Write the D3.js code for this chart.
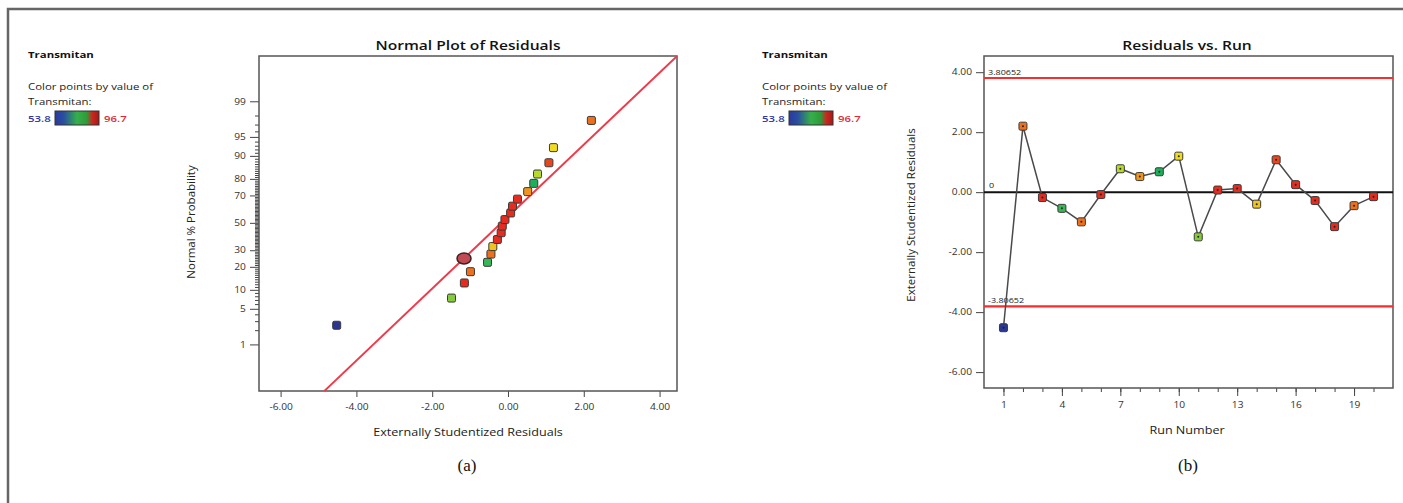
<html>
<head>
	<script src="https://d3js.org/d3.v7.min.js" charset="utf-8"></script>
	<style type="text/css">
	body { margin: 0; background: #fff; }
	svg { display: block; font-family: "Open Sans", "DejaVu Sans", sans-serif; }
	</style>
</head>
<body>
<script type="text/javascript">
	var w = 1403;
	var h = 503;

	// externally studentized residuals per run
	var runs = [1, 2, 3, 4, 5, 6, 7, 8, 9, 10, 11, 12, 13, 14, 15, 16, 17, 18, 19, 20];
	var residuals = [-4.52, 2.20, -0.18, -0.54, -0.99, -0.08, 0.78, 0.52, 0.68, 1.20, -1.49, 0.07, 0.12, -0.40, 1.08, 0.25, -0.28, -1.15, -0.45, -0.15];
	// transmitan value per run
	var transmitan = [53.8, 91, 96, 76, 91, 96, 81, 89, 75, 86, 79, 96, 96, 87, 94, 96, 96, 96, 91, 96];
	// normal % probability of the sorted residuals
	var normalProb = [2.5, 7.5, 12.5, 17.5, 22.5, 27.5, 32.5, 37.5, 42.5, 47.5, 52.5, 57.5, 62.5, 67.5, 72.5, 77.5, 82.5, 87.5, 92.5, 97.5];
	// highlighted point on the normal plot
	var highlight = {x: -1.16, p: 24.8};
	// reference line on the normal plot, two points (residual, z)
	var refLineX = [-4.85, 4.46];
	var refLineZ = [-3.22, 3.19];
	// control limits
	var limit = 3.80652;

	var probTicks = [1, 5, 10, 20, 30, 50, 70, 80, 90, 95, 99];
	var residTicksL = [-6, -4, -2, 0, 2, 4];
	var residTicksR = [-6, -4, -2, 0, 2, 4];
	var runTicks = [1, 4, 7, 10, 13, 16, 19];
	var legendMin = 53.8, legendMax = 96.7;

	var sx = 1.2; // the source image is stretched sideways

	var svg = d3.select("body").append("svg")
		.attr("width", w)
		.attr("height", h);

	// inverse normal cdf (Acklam)
	function probit(p) {
		var a = [-3.969683028665376e+01, 2.209460984245205e+02, -2.759285104469687e+02, 1.383577518672690e+02, -3.066479806614716e+01, 2.506628277459239e+00];
		var b = [-5.447609879822406e+01, 1.615858368580409e+02, -1.556989798598866e+02, 6.680131188771972e+01, -1.328068155288572e+01];
		var c = [-7.784894002430293e-03, -3.223964580411365e-01, -2.400758277161838e+00, -2.549732539343734e+00, 4.374664141464968e+00, 2.938163982698783e+00];
		var d = [7.784695709041462e-03, 3.224671290700398e-01, 2.445134137142996e+00, 3.754408661907416e+00];
		var pl = 0.02425, q, r;
		if (p < pl) {
			q = Math.sqrt(-2 * Math.log(p));
			return (((((c[0]*q+c[1])*q+c[2])*q+c[3])*q+c[4])*q+c[5]) / ((((d[0]*q+d[1])*q+d[2])*q+d[3])*q+1);
		}
		if (p > 1 - pl) {
			q = Math.sqrt(-2 * Math.log(1 - p));
			return -(((((c[0]*q+c[1])*q+c[2])*q+c[3])*q+c[4])*q+c[5]) / ((((d[0]*q+d[1])*q+d[2])*q+d[3])*q+1);
		}
		q = p - 0.5; r = q * q;
		return (((((a[0]*r+a[1])*r+a[2])*r+a[3])*r+a[4])*r+a[5])*q / (((((b[0]*r+b[1])*r+b[2])*r+b[3])*r+b[4])*r+1);
	}

	var color = d3.scaleLinear()
		.domain([53.8, 75, 81, 86, 90, 96.7])
		.range(["#2c3793", "#1fae5c", "#b6d92c", "#f0dc1c", "#ef7d1c", "#e4231f"]);

	// horizontal text, widened like the source
	function txt(g, s, x, y, size, anchor) {
		return g.append("text").text(s)
			.attr("transform", "translate(" + x + "," + y + ") scale(" + sx + ",1)")
			.attr("text-anchor", anchor || "start")
			.attr("font-size", size)
			.attr("fill", "#222");
	}

	// outer frame
	svg.append("path")
		.attr("d", "M8," + h + "V9H" + w)
		.attr("fill", "none")
		.attr("stroke", "#666")
		.attr("stroke-width", 2.5);

	// gradient for legends
	var defs = svg.append("defs");
	var grad = defs.append("linearGradient").attr("id", "lg");
	grad.append("stop").attr("offset", "0%").attr("stop-color", "#2a3a9e");
	grad.append("stop").attr("offset", "20%").attr("stop-color", "#2a4fa0");
	grad.append("stop").attr("offset", "50%").attr("stop-color", "#35b04a");
	grad.append("stop").attr("offset", "72%").attr("stop-color", "#2f9a3a");
	grad.append("stop").attr("offset", "85%").attr("stop-color", "#c8281f");
	grad.append("stop").attr("offset", "100%").attr("stop-color", "#a81818");

	function legend(x0) {
		var g = svg.append("g");
		txt(g, "Transmitan", x0, 58, 9.5).attr("font-weight", "bold").attr("fill", "#111");
		txt(g, "Color points by value of", x0, 90, 9.5);
		txt(g, "Transmitan:", x0, 105, 9.5);
		txt(g, legendMin, x0, 122, 9.5).attr("font-weight", 600).attr("fill", "#2a3aa0");
		g.append("rect")
			.attr("x", x0 + 27).attr("y", 111)
			.attr("width", 44).attr("height", 14)
			.attr("fill", "url(#lg)").attr("stroke", "#333").attr("stroke-width", 1);
		txt(g, legendMax, x0 + 76, 122, 9.5).attr("font-weight", 600).attr("fill", "#e0283a");
	}
	legend(28);
	legend(762);

	function styleAxis(g) {
		g.select(".domain").remove();
		g.selectAll("line").attr("stroke", "#444");
		g.selectAll("text").attr("font-size", 8.5).attr("fill", "#333")
			.attr("font-family", "\"Open Sans\", sans-serif")
			.attr("transform", "scale(" + sx + ",1)");
	}

	function square(g, x, y, c) {
		g.append("rect")
			.attr("x", x - 4).attr("y", y - 4)
			.attr("width", 8).attr("height", 8)
			.attr("rx", 1.5)
			.attr("fill", c)
			.attr("stroke", "#3a3a3a").attr("stroke-width", 1);
	}

	// ---------- (a) normal plot ----------
	var L = {x0: 259, x1: 677, y0: 56, y1: 391};
	var xL = d3.scaleLinear().domain([-6.57, 4.46]).range([L.x0, L.x1]);
	var zL = d3.scaleLinear().domain([-3.218, 3.193]).range([L.y1, L.y0]);
	var gL = svg.append("g");

	defs.append("clipPath").attr("id", "clipL")
		.append("rect").attr("x", L.x0).attr("y", L.y0)
		.attr("width", L.x1 - L.x0).attr("height", L.y1 - L.y0);

	var minorP = d3.range(2, 99).filter(function(p) { return probTicks.indexOf(p) < 0; });
	gL.append("g").attr("transform", "translate(" + L.x0 + ",0)")
		.call(d3.axisLeft(zL).tickValues(minorP.map(function(p) { return probit(p / 100); }))
			.tickSize(4).tickFormat(""))
		.call(styleAxis);
	gL.append("g").attr("transform", "translate(" + L.x0 + ",0)")
		.call(d3.axisLeft(zL).tickValues(probTicks.map(function(p) { return probit(p / 100); }))
			.tickSize(9).tickPadding(2)
			.tickFormat(function(d, i) { return probTicks[i]; }))
		.call(styleAxis);
	gL.append("g").attr("transform", "translate(0," + L.y1 + ")")
		.call(d3.axisBottom(xL).tickValues(residTicksL).tickSize(6).tickPadding(7)
			.tickFormat(function(d) { return d.toFixed(2); }))
		.call(styleAxis);

	gL.append("rect")
		.attr("x", L.x0).attr("y", L.y0)
		.attr("width", L.x1 - L.x0).attr("height", L.y1 - L.y0)
		.attr("fill", "none").attr("stroke", "#555").attr("stroke-width", 1.5);

	gL.append("line")
		.attr("clip-path", "url(#clipL)")
		.attr("x1", xL(refLineX[0])).attr("y1", zL(refLineZ[0]))
		.attr("x2", xL(refLineX[1])).attr("y2", zL(refLineZ[1]))
		.attr("stroke", "#ee3b4c").attr("stroke-width", 2);

	var order = d3.sort(d3.range(runs.length), function(i) { return residuals[i]; });
	order.forEach(function(i, k) {
		square(gL, xL(residuals[i]), zL(probit(normalProb[k] / 100)), color(transmitan[i]));
	});
	gL.append("ellipse")
		.attr("cx", xL(highlight.x)).attr("cy", zL(probit(highlight.p / 100)))
		.attr("rx", 7).attr("ry", 5.5)
		.attr("fill", "#c24a55").attr("stroke", "#3a2020").attr("stroke-width", 1.5);

	txt(gL, "Normal Plot of Residuals", 468, 50, 13, "middle")
		.attr("font-weight", 600).attr("fill", "#111");
	txt(gL, "Externally Studentized Residuals", 468, 436, 10.5, "middle");
	gL.append("text").text("Normal % Probability")
		.attr("transform", "translate(195,222) rotate(-90)")
		.attr("text-anchor", "middle")
		.attr("font-size", 11.5).attr("fill", "#222");

	// ---------- (b) residuals vs run ----------
	var R = {x0: 984, x1: 1393, y0: 56, y1: 388};
	var xR = d3.scaleLinear().domain([0, 21]).range([R.x0, R.x1]);
	var yR = d3.scaleLinear().domain([-6.53, 4.54]).range([R.y1, R.y0]);
	var gR = svg.append("g");

	gR.append("g").attr("transform", "translate(" + R.x0 + ",0)")
		.call(d3.axisLeft(yR).tickValues(residTicksR).tickSize(8).tickPadding(2)
			.tickFormat(function(d) { return d.toFixed(2); }))
		.call(styleAxis);
	gR.append("g").attr("transform", "translate(0," + R.y1 + ")")
		.call(d3.axisBottom(xR).tickValues(runs).tickSize(4).tickFormat(""))
		.call(styleAxis);
	gR.append("g").attr("transform", "translate(0," + R.y1 + ")")
		.call(d3.axisBottom(xR).tickValues(runTicks).tickSize(8).tickPadding(6))
		.call(styleAxis);

	gR.append("rect")
		.attr("x", R.x0).attr("y", R.y0)
		.attr("width", R.x1 - R.x0).attr("height", R.y1 - R.y0)
		.attr("fill", "none").attr("stroke", "#555").attr("stroke-width", 1.5);

	[limit, -limit].forEach(function(v) {
		gR.append("line")
			.attr("x1", R.x0).attr("x2", R.x1)
			.attr("y1", yR(v)).attr("y2", yR(v))
			.attr("stroke", "#ff2a2a").attr("stroke-width", 2.2);
	});
	gR.append("line")
		.attr("x1", R.x0).attr("x2", R.x1)
		.attr("y1", yR(0)).attr("y2", yR(0))
		.attr("stroke", "#111").attr("stroke-width", 2);

	txt(gR, limit.toFixed(5), R.x0 + 4, yR(limit) - 3, 7.5);
	txt(gR, (-limit).toFixed(5), R.x0 + 4, yR(-limit) - 3, 7.5);
	txt(gR, "0", R.x0 + 5, yR(0) - 4, 7.5);

	var pts = runs.map(function(r, i) { return [xR(r), yR(residuals[i])]; });
	gR.append("path")
		.attr("d", d3.line()(pts))
		.attr("fill", "none").attr("stroke", "#4a4a4a").attr("stroke-width", 1.5);
	runs.forEach(function(r, i) {
		square(gR, xR(r), yR(residuals[i]), color(transmitan[i]));
		gR.append("circle").attr("cx", xR(r)).attr("cy", yR(residuals[i]))
			.attr("r", 1).attr("fill", "#222");
	});

	txt(gR, "Residuals vs. Run", 1187, 50, 13, "middle")
		.attr("font-weight", 600).attr("fill", "#111");
	txt(gR, "Run Number", 1187, 434, 10.5, "middle");
	gR.append("text").text("Externally Studentized Residuals")
		.attr("transform", "translate(915,215) rotate(-90)")
		.attr("text-anchor", "middle")
		.attr("font-size", 11.5).attr("fill", "#222");

	// panel captions
	svg.append("text").text("(a)")
		.attr("x", 467).attr("y", 471).attr("text-anchor", "middle")
		.attr("font-family", "\"Liberation Serif\", serif").attr("font-size", 17).attr("fill", "#111");
	svg.append("text").text("(b)")
		.attr("x", 1188).attr("y", 471).attr("text-anchor", "middle")
		.attr("font-family", "\"Liberation Serif\", serif").attr("font-size", 17).attr("fill", "#111");
</script>
</body>
</html>
